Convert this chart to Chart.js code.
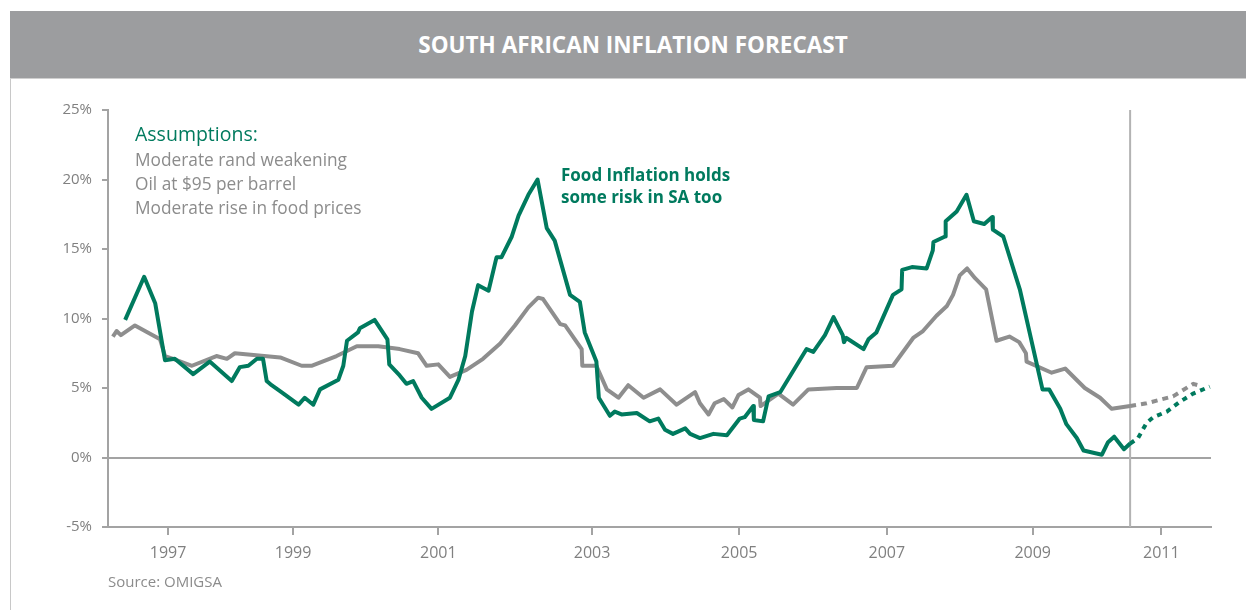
<!DOCTYPE html>
<html>
<head>
<meta charset="utf-8">
<script src="https://cdn.jsdelivr.net/npm/chart.js@4/dist/chart.umd.min.js"></script>
<style>
body { margin: 0; background: #fff; }
#wrap { position: relative; width: 1246px; height: 610px; overflow: hidden; font-family: "Open Sans", sans-serif; }
#head {
	position: absolute; left: 10px; top: 11px; width: 1246px; height: 67px;
	background: #9c9d9f; border-bottom: 1px solid #cfcfcf;
	color: #fff; font-weight: bold; font-size: 22.5px; line-height: 67px; text-align: center;
}
#frame { position: absolute; left: 10px; top: 79px; width: 1px; height: 531px; background: #c8c8c8; }
#chart { position: absolute; left: 0; top: 0; }
</style>
</head>
<body>
<div id="wrap">
	<canvas id="chart" width="1246" height="610"></canvas>
	<div id="frame"></div>
	<div id="head">SOUTH AFRICAN INFLATION FORECAST</div>
</div>
<script>
// x runs in periods from the start of the series (roughly monthly)
var tickPos = [9.8, 30.2, 53.9, 79, 103, 127.1, 150.9, 171.9];
var tickYears = ['1997', '1999', '2001', '2003', '2005', '2007', '2009', '2011'];
var forecastStart = 166.8;

// food inflation, y/y %
var foodActual = [
	[2.8, 9.9], [5.9, 13.0], [7.7, 11.1], [9.3, 7.0], [10.9, 7.1], [13.9, 6.0], [16.6, 6.9], [20.2, 5.5],
	[21.5, 6.5], [22.9, 6.6], [24.3, 7.1], [25.3, 7.1], [25.9, 5.5], [26.7, 5.2], [28.3, 4.7], [31.1, 3.8],
	[32.1, 4.3], [33.5, 3.8], [34.6, 4.9], [37.6, 5.6], [38.4, 6.6], [39.0, 8.4], [40.8, 9.0], [41.1, 9.3],
	[43.5, 9.9], [45.6, 8.5], [45.9, 6.7], [47.6, 5.9], [48.7, 5.3], [49.8, 5.5], [51.2, 4.3], [52.8, 3.5],
	[55.8, 4.3], [57.2, 5.6], [58.3, 7.3], [59.4, 10.5], [60.4, 12.4], [62.1, 12.0], [63.4, 14.4], [64.2, 14.4],
	[65.9, 15.9], [67.0, 17.4], [68.6, 18.9], [70.1, 20.0], [71.6, 16.5], [72.9, 15.6], [75.4, 11.7], [77.0, 11.2],
	[77.8, 9.0], [79.7, 6.9], [80.1, 4.3], [81.9, 3.0], [82.7, 3.3], [83.8, 3.1], [86.3, 3.2], [88.4, 2.6],
	[89.8, 2.8], [90.9, 2.0], [92.2, 1.7], [94.2, 2.1], [95.0, 1.7], [96.6, 1.4], [98.8, 1.7], [101.0, 1.6],
	[103.1, 2.8], [103.9, 2.9], [105.3, 3.7], [105.4, 2.7], [106.9, 2.6], [107.8, 4.4], [109.7, 4.7], [114.0, 7.8],
	[115.1, 7.6], [117.0, 8.8], [118.4, 10.1], [119.9, 8.8], [120.1, 8.3], [120.5, 8.6], [123.3, 7.8], [124.1, 8.5],
	[125.4, 9.0], [128.1, 11.7], [129.5, 12.1], [129.6, 13.5], [131.2, 13.7], [133.6, 13.6], [134.6, 14.9], [134.7, 15.5],
	[136.6, 15.9], [136.7, 17.0], [138.5, 17.7], [140.1, 18.9], [141.3, 17.0], [143.0, 16.8], [144.3, 17.3], [144.4, 16.4],
	[146.1, 15.9], [148.8, 12.1], [152.5, 4.9], [153.6, 4.9], [155.4, 3.5], [156.4, 2.4], [158.1, 1.4], [159.2, 0.5],
	[162.2, 0.2], [163.2, 1.1], [164.2, 1.5], [165.8, 0.6], [166.8, 1.0]
];
var foodForecast = [[166.8, 1.0], [168.1, 1.4], [169.5, 2.5], [170.6, 2.9], [172.8, 3.3], [174.9, 4.0], [177.1, 4.6], [179.8, 5.1]];

// headline CPI, y/y %
var cpiActual = [
	[0.8, 8.7], [1.4, 9.1], [2.1, 8.8], [4.4, 9.5], [8.5, 8.5], [9.3, 7.3], [11.2, 7.0], [13.7, 6.6],
	[17.7, 7.3], [19.4, 7.1], [20.7, 7.5], [28.1, 7.2], [31.6, 6.6], [33.2, 6.6], [37.3, 7.3], [40.6, 8.0],
	[44.1, 8.0], [47.6, 7.8], [50.6, 7.5], [52.0, 6.6], [53.9, 6.7], [55.8, 5.8], [58.5, 6.3], [61.2, 7.1],
	[64.0, 8.2], [66.4, 9.5], [68.6, 10.8], [70.2, 11.5], [71.0, 11.4], [73.8, 9.6], [74.6, 9.5], [77.3, 7.8],
	[77.4, 6.6], [79.7, 6.6], [81.4, 4.9], [83.3, 4.3], [84.9, 5.2], [87.4, 4.3], [90.1, 4.9], [92.8, 3.8],
	[95.8, 4.7], [96.6, 3.9], [98.0, 3.1], [99.0, 3.9], [100.5, 4.2], [101.9, 3.6], [102.9, 4.5], [104.5, 4.9],
	[106.4, 4.3], [106.5, 3.7], [109.4, 4.6], [111.8, 3.8], [114.3, 4.9], [118.9, 5.0], [122.2, 5.0], [123.8, 6.5],
	[128.1, 6.6], [131.4, 8.6], [133.0, 9.1], [135.2, 10.2], [136.9, 10.9], [137.9, 11.7], [139.0, 13.1], [140.2, 13.6],
	[141.5, 12.9], [143.3, 12.1], [145.0, 8.4], [147.1, 8.7], [148.7, 8.3], [149.8, 7.5], [149.9, 6.9], [154.0, 6.1],
	[156.2, 6.4], [159.4, 5.0], [161.9, 4.3], [163.8, 3.5], [166.8, 3.7]
];
var cpiForecast = [[166.8, 3.7], [169.5, 3.9], [173.8, 4.4], [177.1, 5.3], [177.9, 5.2]];

var green = '#007a5e';
var grey = '#8e8e8e';
var axisGrey = '#a3a3a3';
var font = '"Open Sans", sans-serif';

function pts(arr) {
	return arr.map(function(p) { return {x: p[0], y: p[1]}; });
}

function line(arr, color, dash) {
	return {
		data: pts(arr),
		borderColor: color,
		borderWidth: 4,
		borderDash: dash || [],
		borderJoinStyle: 'round',
		pointRadius: 0,
		tension: 0,
		fill: false
	};
}

// forecast divider and the text blocks
var extras = {
	id: 'extras',
	beforeDatasetsDraw: function(chart) {
		var c = chart.ctx, a = chart.chartArea;
		var x = chart.scales.x.getPixelForValue(forecastStart);
		c.save();
		c.strokeStyle = '#b3b3b3';
		c.lineWidth = 2;
		c.beginPath();
		c.moveTo(x, a.top);
		c.lineTo(x, a.bottom);
		c.stroke();
		c.restore();
	},
	afterDraw: function(chart) {
		var c = chart.ctx;
		c.save();
		c.textBaseline = 'alphabetic';
		c.textAlign = 'left';

		c.fillStyle = green;
		c.font = '19.5px ' + font;
		c.fillText('Assumptions:', 135, 141);

		c.fillStyle = '#8c8c8c';
		c.font = '17.3px ' + font;
		c.fillText('Moderate rand weakening', 135, 166);
		c.fillText('Oil at $95 per barrel', 135, 190);
		c.fillText('Moderate rise in food prices', 135, 214);

		c.fillStyle = green;
		c.font = 'bold 17px ' + font;
		c.fillText('Food Inflation holds', 561, 181);
		c.fillText('some risk in SA too', 561, 203);

		c.fillStyle = '#8c8c8c';
		c.font = '15px ' + font;
		c.fillText('Source: OMIGSA', 108, 587);
		c.restore();
	}
};

var chart = new Chart(document.getElementById('chart'), {
	type: 'line',
	data: {
		datasets: [
			line(foodActual, green),
			line(cpiActual, grey),
			line(foodForecast, green, [5, 5]),
			line(cpiForecast, grey, [6, 5])
		]
	},
	options: {
		responsive: false,
		animation: false,
		layout: {padding: {left: 0, right: 35, top: 110, bottom: 0}},
		plugins: {legend: {display: false}, tooltip: {enabled: false}},
		scales: {
			x: {
				type: 'linear',
				min: 0,
				max: 180,
				afterFit: function(s) { s.height = 83; },
				afterBuildTicks: function(s) {
					s.ticks = tickPos.map(function(v) { return {value: v}; });
				},
				grid: {drawOnChartArea: false, drawTicks: true, tickLength: 8, color: axisGrey, lineWidth: 2},
				border: {display: true, color: axisGrey, width: 2},
				ticks: {
					autoSkip: false,
					maxRotation: 0,
					padding: 9,
					color: '#808080',
					font: {family: font, size: 16},
					callback: function(v) { return tickYears[tickPos.indexOf(v)]; }
				}
			},
			y: {
				min: -5,
				max: 25,
				afterFit: function(s) { s.width = 108; },
				grid: {
					drawTicks: true,
					tickLength: 6,
					tickColor: axisGrey,
					lineWidth: 2,
					color: function(ctx) { return ctx.tick && ctx.tick.value === 0 ? axisGrey : 'rgba(0,0,0,0)'; }
				},
				border: {display: true, color: axisGrey, width: 2},
				ticks: {
					stepSize: 5,
					padding: 10,
					color: '#808080',
					font: {family: font, size: 15},
					callback: function(v) { return v + '%'; }
				}
			}
		}
	},
	plugins: [extras]
});
</script>
</body>
</html>
